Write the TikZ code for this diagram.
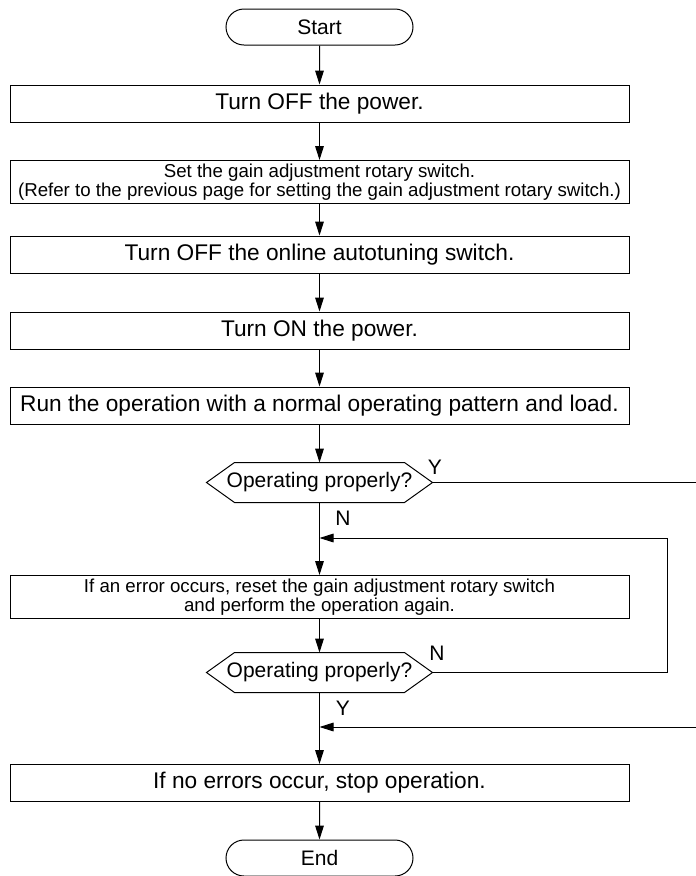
\documentclass[tikz,border=0pt]{standalone}
\usepackage{fontspec}
\setmainfont{Liberation Sans}
\usetikzlibrary{arrows.meta,shapes.misc}

\tikzset{
proc/.style={draw,minimum width=464.25pt,minimum height=27.75pt,inner sep=0pt,align=center,font=\fontsize{17}{20}\selectfont},
proctwo/.style={proc,minimum height=32.25pt,font=\fontsize{14}{14.5}\selectfont},
term/.style={draw,rounded rectangle,minimum width=140.25pt,minimum height=27pt,inner sep=0pt,font=\fontsize{15.75}{18}\selectfont},
dec/.style={minimum width=168.75pt,minimum height=29.25pt,inner sep=0pt,font=\fontsize{15.75}{18}\selectfont},
yn/.style={inner sep=0pt,font=\fontsize{15.75}{18}\selectfont},
flow/.style={-{Triangle[length=10.5pt,width=6.5pt]}}
}

\begin{document}
\begin{tikzpicture}[x=0.75pt,y=-0.75pt,line width=0.75pt]
\useasboundingbox (0,0) rectangle (696,876);
\node[term] (start) at (319.5,27) {Start};
\node[proc] (off) at (319.5,103.5) {Turn OFF the power.};
\node[proctwo] (gain) at (319.5,182) {Set the gain adjustment rotary switch.\\(Refer to the previous page for setting the gain adjustment rotary switch.)};
\node[proc] (auto) at (319.5,254.5) {Turn OFF the online autotuning switch.};
\node[proc] (on) at (319.5,330.5) {Turn ON the power.};
\node[proc] (run) at (319.5,405.5) {Run the operation with a normal operating pattern and load.};
\node[dec] (chk1) at (319.5,482.5) {Operating properly?};
\node[proctwo] (reset) at (319.5,597) {If an error occurs, reset the gain adjustment rotary switch\\and perform the operation again.};
\node[dec] (chk2) at (319.5,672.5) {Operating properly?};
\node[proc] (stop) at (319.5,783) {If no errors occur, stop operation.};
\node[term] (finish) at (319.5,858) {End};
\foreach \d in {chk1,chk2}
\draw (\d.west) -- ([xshift=21pt]\d.north west) -- ([xshift=-21pt]\d.north east) -- (\d.east)
 -- ([xshift=-21pt]\d.south east) -- ([xshift=21pt]\d.south west) -- cycle;
\foreach \a/\b in {start/off,off/gain,gain/auto,auto/on,on/run,run/chk1,chk1/reset,reset/chk2,chk2/stop,stop/finish}
\draw[flow] (\a) -- (\b);
\coordinate (back) at (667,538);
\coordinate (yout) at (696,482.5);
\coordinate (yin) at (696,727);
\draw[flow] (chk2.east) -| (back) -- (back -| chk1.south);
\draw (chk1.east) -- (yout);
\draw[flow] (yin) -- (yin -| chk2.south);
\node[yn] (y1) at (435,467) {Y};
\node[yn] (n1) at (343,518) {N};
\node[yn] (n2) at (437,653) {N};
\node[yn] (y2) at (343,708) {Y};
\end{tikzpicture}
\end{document}
